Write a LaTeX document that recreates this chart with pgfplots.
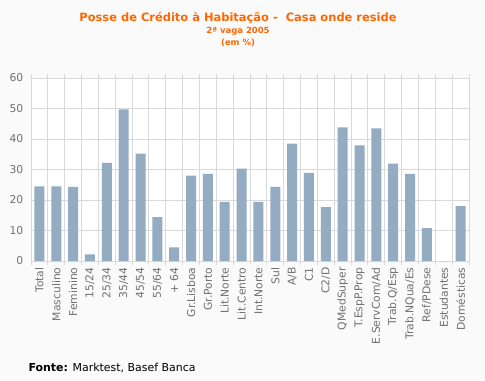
\documentclass[border=0pt]{standalone}
\usepackage{pgfplots}
\pgfplotsset{compat=1.18}
\usepackage{fontspec}
\setmainfont{DejaVu Sans}
\definecolor{bgc}{HTML}{FAFAFA}
\definecolor{barc}{HTML}{93ACC1}
\definecolor{gridc}{HTML}{D9D9D9}
\definecolor{titc}{HTML}{FF6600}
\definecolor{labc}{HTML}{707070}
\begin{document}
\begin{tikzpicture}[x=1bp,y=1bp]
\fill[bgc] (0,0) rectangle (485,-380);
\node[font=\bfseries\fontsize{11.5}{13}\selectfont, text=titc] at (238,-18) {Posse de Crédito à Habitação -\ \ Casa onde reside};
\node[font=\bfseries\fontsize{8.5}{10}\selectfont, text=titc] at (238,-31) {2ª vaga 2005};
\node[font=\bfseries\fontsize{8.5}{10}\selectfont, text=titc] at (238,-43) {(em \%)};
\node[anchor=west, font=\fontsize{11}{13}\selectfont] at (25,-368) {\textbf{Fonte:} Marktest, Basef Banca};
\begin{axis}[
  at={(31bp,-261bp)}, anchor=south west,
  width=438bp, height=183bp, scale only axis,
  ybar, bar width=10bp,
  xmin=-0.5, xmax=25.5, ymin=0, ymax=60,
  ytick={0,10,...,60},
  xtick={0,...,25},
  xticklabels={Total,Masculino,Feminino,15/24,25/34,35/44,45/54,55/64,+ 64,Gr.Lisboa,Gr.Porto,Lit.Norte,Lit.Centro,Int.Norte,Sul,A/B,C1,C2/D,QMedSuper,T.EspP.Prop,E.ServCom/Ad,Trab.Q/Esp,Trab.NQua/Es,Ref/PDese,Estudantes,Domésticas},
  minor xtick={-0.5,0.5,...,25.5},
  xminorgrids, ymajorgrids,
  grid style={draw=gridc, line width=0.9bp},
  minor grid style={draw=gridc, line width=0.9bp},
  axis line style={draw=gridc, line width=0.9bp},
  major x tick style={draw=none},
  major y tick style={draw=none},
  minor x tick style={draw=gridc, line width=0.9bp},
  minor tick length=4bp,
  tick align=outside,
  x tick label style={rotate=90, anchor=east, font=\fontsize{10.8}{12}\selectfont, text=labc, inner sep=2bp},
  y tick label style={font=\fontsize{10.8}{12}\selectfont, text=labc},
  /pgf/number format/assume math mode=true,
  axis background/.style={fill=white},
]
\addplot[fill=barc, draw=none] coordinates {
(0,24.5) (1,24.5) (2,24.3) (3,2.2) (4,32.2) (5,49.7) (6,35.2) (7,14.4) (8,4.5)
(9,28.0) (10,28.6) (11,19.4) (12,30.3) (13,19.4) (14,24.3) (15,38.5) (16,28.9)
(17,17.7) (18,43.8) (19,37.9) (20,43.5) (21,31.9) (22,28.6) (23,10.8) (24,0) (25,18.0)};
\end{axis}
\end{tikzpicture}
\end{document}
